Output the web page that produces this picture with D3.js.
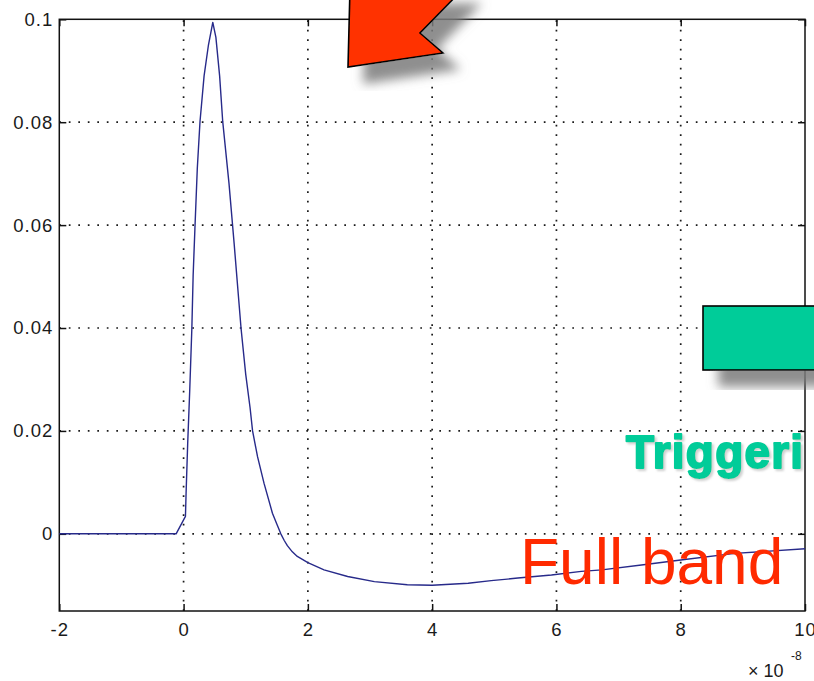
<!DOCTYPE html>
<html>
<head>
<meta charset="utf-8">
<script src="https://cdn.jsdelivr.net/npm/d3@7"></script>
<style>
  html, body { margin: 0; padding: 0; background: #ffffff; }
  svg { display: block; }
</style>
</head>
<body>
<svg id="chart" width="814" height="681"></svg>
<script>
// Time axis in units of 1e-8 s
const timeValues = [
  -2, -0.12, 0.03, 0.04, 0.066, 0.099, 0.133, 0.154, 0.182, 0.221, 0.264, 0.33, 0.40, 0.47,
  0.52, 0.58, 0.63, 0.73, 0.815, 0.925, 1.0, 1.07, 1.11, 1.19, 1.295, 1.43, 1.5, 1.565, 1.62, 1.67,
  1.75, 1.83, 2.0, 2.26, 2.64, 3.07, 3.6, 4.0, 4.58, 4.95, 5.38, 5.92, 6.4, 6.73, 7.4, 8.0, 8.87, 10.0
];
// Pulse amplitude
const signalValues = [
  0, 0, 0.0034, 0.0078, 0.0175, 0.0279, 0.0399, 0.0503, 0.0592, 0.0711, 0.0801, 0.089, 0.095, 0.0994,
  0.0965, 0.089, 0.0801, 0.0682, 0.0562, 0.0399, 0.031, 0.0245, 0.020, 0.015, 0.0098, 0.0040, 0.0019, 0.0, -0.0013, -0.0023,
  -0.0035, -0.0044, -0.0056, -0.0070, -0.0083, -0.0093, -0.0099, -0.0100, -0.0096, -0.0091, -0.0086, -0.0080, -0.0073, -0.0070, -0.0060, -0.0051, -0.0038, -0.0029
];
const xTicks = [-2, 0, 2, 4, 6, 8, 10];
const xTickLabels = ["-2", "0", "2", "4", "6", "8", "10"];
const yTicks = [0, 0.02, 0.04, 0.06, 0.08, 0.1];
const yTickLabels = ["0", "0.02", "0.04", "0.06", "0.08", "0.1"];
const xDomain = [-2, 10];
const yDomain = [-0.015, 0.1];

const svg = d3.select("#chart");
const plotLeft = 59.3, plotRight = 805, plotTop = 19.3, plotBottom = 611;

const x = d3.scaleLinear().domain(xDomain).range([plotLeft, plotRight]);
const y = d3.scaleLinear().domain(yDomain).range([plotBottom, plotTop]);

// Shadow filters
const defs = svg.append("defs");
const sh = defs.append("filter").attr("id", "shadow")
  .attr("x", "-30%").attr("y", "-30%").attr("width", "160%").attr("height", "160%");
sh.append("feDropShadow").attr("dx", 16).attr("dy", 16).attr("stdDeviation", 5.5)
  .attr("flood-color", "#7a7a7a").attr("flood-opacity", 0.85);
const tsh = defs.append("filter").attr("id", "textShadow")
  .attr("x", "-10%").attr("y", "-10%").attr("width", "120%").attr("height", "130%");
tsh.append("feDropShadow").attr("dx", 2).attr("dy", 2).attr("stdDeviation", 1)
  .attr("flood-color", "#b0b0b0").attr("flood-opacity", 0.6);

// Dotted grid
const grid = svg.append("g").attr("stroke", "#1a1a1a").attr("stroke-width", 1.7)
  .attr("stroke-dasharray", "1.7 7.8").attr("stroke-linecap", "butt");
grid.selectAll("line.gx").data(xTicks.filter(v => v > xDomain[0] && v < xDomain[1]))
  .join("line").attr("class", "gx")
  .attr("x1", d => x(d)).attr("x2", d => x(d)).attr("y1", plotBottom).attr("y2", plotTop);
grid.selectAll("line.gy").data(yTicks.filter(v => v > yDomain[0] && v < yDomain[1]))
  .join("line").attr("class", "gy")
  .attr("y1", d => y(d)).attr("y2", d => y(d)).attr("x1", plotLeft).attr("x2", plotRight);

// Axes with inward ticks
const fontFam = "'Liberation Sans', Arial, Helvetica, sans-serif";
function styleAxis(g) {
  g.select(".domain").remove();
  g.selectAll(".tick line").attr("stroke", "#111").attr("stroke-width", 1.5);
  g.selectAll(".tick text").attr("fill", "#1a1a1a").attr("font-size", 18.5)
    .attr("font-family", fontFam).attr("letter-spacing", 1);
}
svg.append("g").attr("transform", `translate(${plotLeft},0)`)
  .call(d3.axisLeft(y).tickValues(yTicks).tickFormat((d, i) => yTickLabels[i])
    .tickSizeInner(-7).tickSizeOuter(0).tickPadding(6))
  .call(styleAxis);
svg.append("g").attr("transform", `translate(${plotRight},0)`)
  .call(d3.axisRight(y).tickValues(yTicks).tickFormat("").tickSizeInner(-7).tickSizeOuter(0))
  .call(styleAxis);
svg.append("g").attr("transform", `translate(0,${plotBottom})`)
  .call(d3.axisBottom(x).tickValues(xTicks).tickFormat((d, i) => xTickLabels[i])
    .tickSizeInner(-7).tickSizeOuter(0).tickPadding(12))
  .call(styleAxis);
svg.append("g").attr("transform", `translate(0,${plotTop})`)
  .call(d3.axisTop(x).tickValues(xTicks).tickFormat("").tickSizeInner(-7).tickSizeOuter(0))
  .call(styleAxis);

// Frame
svg.append("rect").attr("x", plotLeft).attr("y", plotTop)
  .attr("width", plotRight - plotLeft).attr("height", plotBottom - plotTop)
  .attr("fill", "none").attr("stroke", "#111").attr("stroke-width", 1.5);

// Exponent label
const expo = svg.append("text").attr("font-family", fontFam).attr("fill", "#1a1a1a");
expo.append("tspan").attr("x", 748).attr("y", 677).attr("font-size", 18).text("\u00d7 10");
expo.append("tspan").attr("x", 791).attr("y", 660).attr("font-size", 12).text("-8");

// Signal trace
const pts = timeValues.map((t, i) => [t, signalValues[i]]);
svg.append("path").datum(pts)
  .attr("fill", "none").attr("stroke", "#272a8a").attr("stroke-width", 1.4)
  .attr("stroke-linejoin", "round")
  .attr("d", d3.line().x(d => x(d[0])).y(d => y(d[1])));

// Red block arrow
svg.append("polygon")
  .attr("points", "350,-12 348,67 443,53 420,33 464,-12")
  .attr("fill", "#ff3300").attr("stroke", "#000").attr("stroke-width", 1.6)
  .attr("stroke-linejoin", "miter").attr("filter", "url(#shadow)");

// Green box
svg.append("rect").attr("x", 703).attr("y", 306).attr("width", 130).attr("height", 64)
  .attr("fill", "#00cc99").attr("stroke", "#000").attr("stroke-width", 1.6)
  .attr("filter", "url(#shadow)");

// Annotations
svg.append("text").attr("x", 626).attr("y", 468)
  .attr("font-family", fontFam).attr("font-weight", "bold").attr("font-size", 46)
  .attr("letter-spacing", 1.2)
  .attr("fill", "#00cc99").attr("stroke", "#00cc99").attr("stroke-width", 2)
  .attr("stroke-linejoin", "round").attr("filter", "url(#textShadow)")
  .text("Triggeri");
svg.append("text").attr("x", 520).attr("y", 584)
  .attr("font-family", fontFam).attr("font-size", 64)
  .attr("fill", "#ff2a00")
  .text("Full band");
</script>
</body>
</html>
